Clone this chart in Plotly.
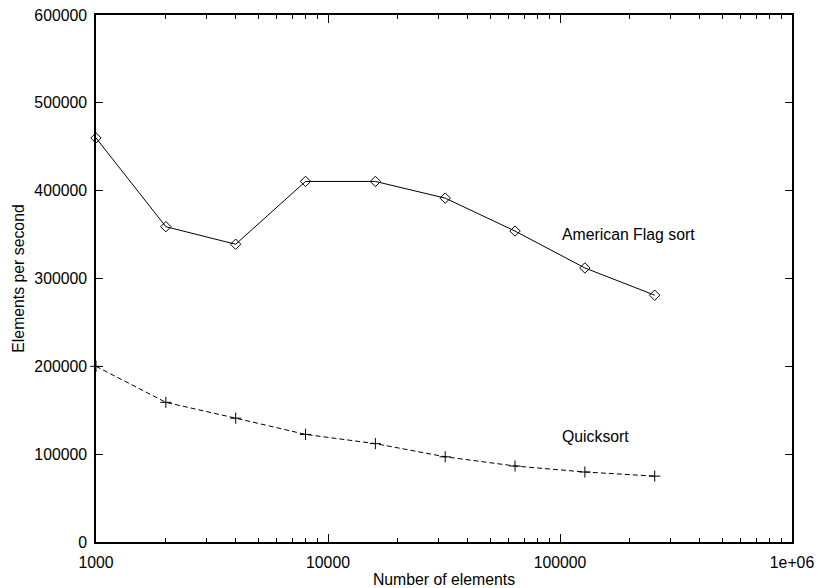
import plotly.graph_objects as go

sizes = [1000, 2000, 4000, 8000, 16000, 32000, 64000, 128000, 256000]
american_flag = [460000, 359000, 339000, 410500, 410500, 391500, 354000, 312000, 281000]
quicksort = [200000, 159000, 141000, 122500, 112000, 97000, 86500, 79700, 75000]

x_tickvals = [1000, 10000, 100000, 1000000]
x_ticktext = ["1000", "10000", "100000", "1e+06"]
y_tickvals = [0, 100000, 200000, 300000, 400000, 500000, 600000]
y_ticktext = [str(v) for v in y_tickvals]

FONT = "Liberation Sans, Arial, Helvetica, sans-serif"
FS = 15.8

fig = go.Figure()
fig.add_trace(go.Scatter(
    x=sizes, y=american_flag, mode="lines+markers", name="American Flag sort",
    line=dict(color="black", width=1),
    marker=dict(symbol="diamond-open", size=8, color="black", line=dict(width=1)),
    cliponaxis=False,
))
fig.add_trace(go.Scatter(
    x=sizes, y=quicksort, mode="lines+markers", name="Quicksort",
    line=dict(color="black", width=1, dash="5px,3px"),
    marker=dict(symbol="cross-thin", size=8, color="black", line=dict(width=1, color="black")),
    cliponaxis=False,
))

fig.add_annotation(x=5, y=350000, xref="x", yref="y", text="American Flag sort",
                   showarrow=False, xanchor="left", yanchor="middle",
                   font=dict(family=FONT, size=FS, color="black"))
fig.add_annotation(x=5, y=120000, xref="x", yref="y", text="Quicksort",
                   showarrow=False, xanchor="left", yanchor="middle",
                   font=dict(family=FONT, size=FS, color="black"))

fig.update_layout(
    width=818, height=588,
    margin=dict(l=96, r=26, t=15, b=46),
    paper_bgcolor="white", plot_bgcolor="white",
    showlegend=False,
    font=dict(family=FONT, size=FS, color="black"),
    xaxis=dict(
        type="log", range=[2.999999, 6.000001], automargin=False,
        tickvals=x_tickvals, ticktext=x_ticktext,
        ticks="inside", ticklen=8, tickwidth=1, tickcolor="black",
        ticklabelstandoff=5, ticklabeloverflow="allow",
        showline=True, linecolor="black", linewidth=1.5, mirror="ticks",
        showgrid=False, zeroline=False,
        minor=dict(ticks="inside", ticklen=4, tickwidth=1, tickcolor="black",
                   dtick="D1", showgrid=False),
        title=dict(text="Number of elements", standoff=12, font=dict(size=FS)),
        tickfont=dict(size=FS),
    ),
    yaxis=dict(
        range=[0, 600000], automargin=False,
        tickvals=y_tickvals, ticktext=y_ticktext,
        ticks="inside", ticklen=7, tickwidth=1, tickcolor="black",
        ticklabelstandoff=4, ticklabeloverflow="allow",
        showline=True, linecolor="black", linewidth=1.5, mirror="ticks",
        showgrid=False, zeroline=False,
        title=dict(text="Elements per second", standoff=6, font=dict(size=FS)),
        tickfont=dict(size=FS),
    ),
)

# remove the page's default body margin so the 818x588 figure fills the window
fig.write_html("out.html", config={"displayModeBar": False},
               post_script="document.body.style.margin='0';")
